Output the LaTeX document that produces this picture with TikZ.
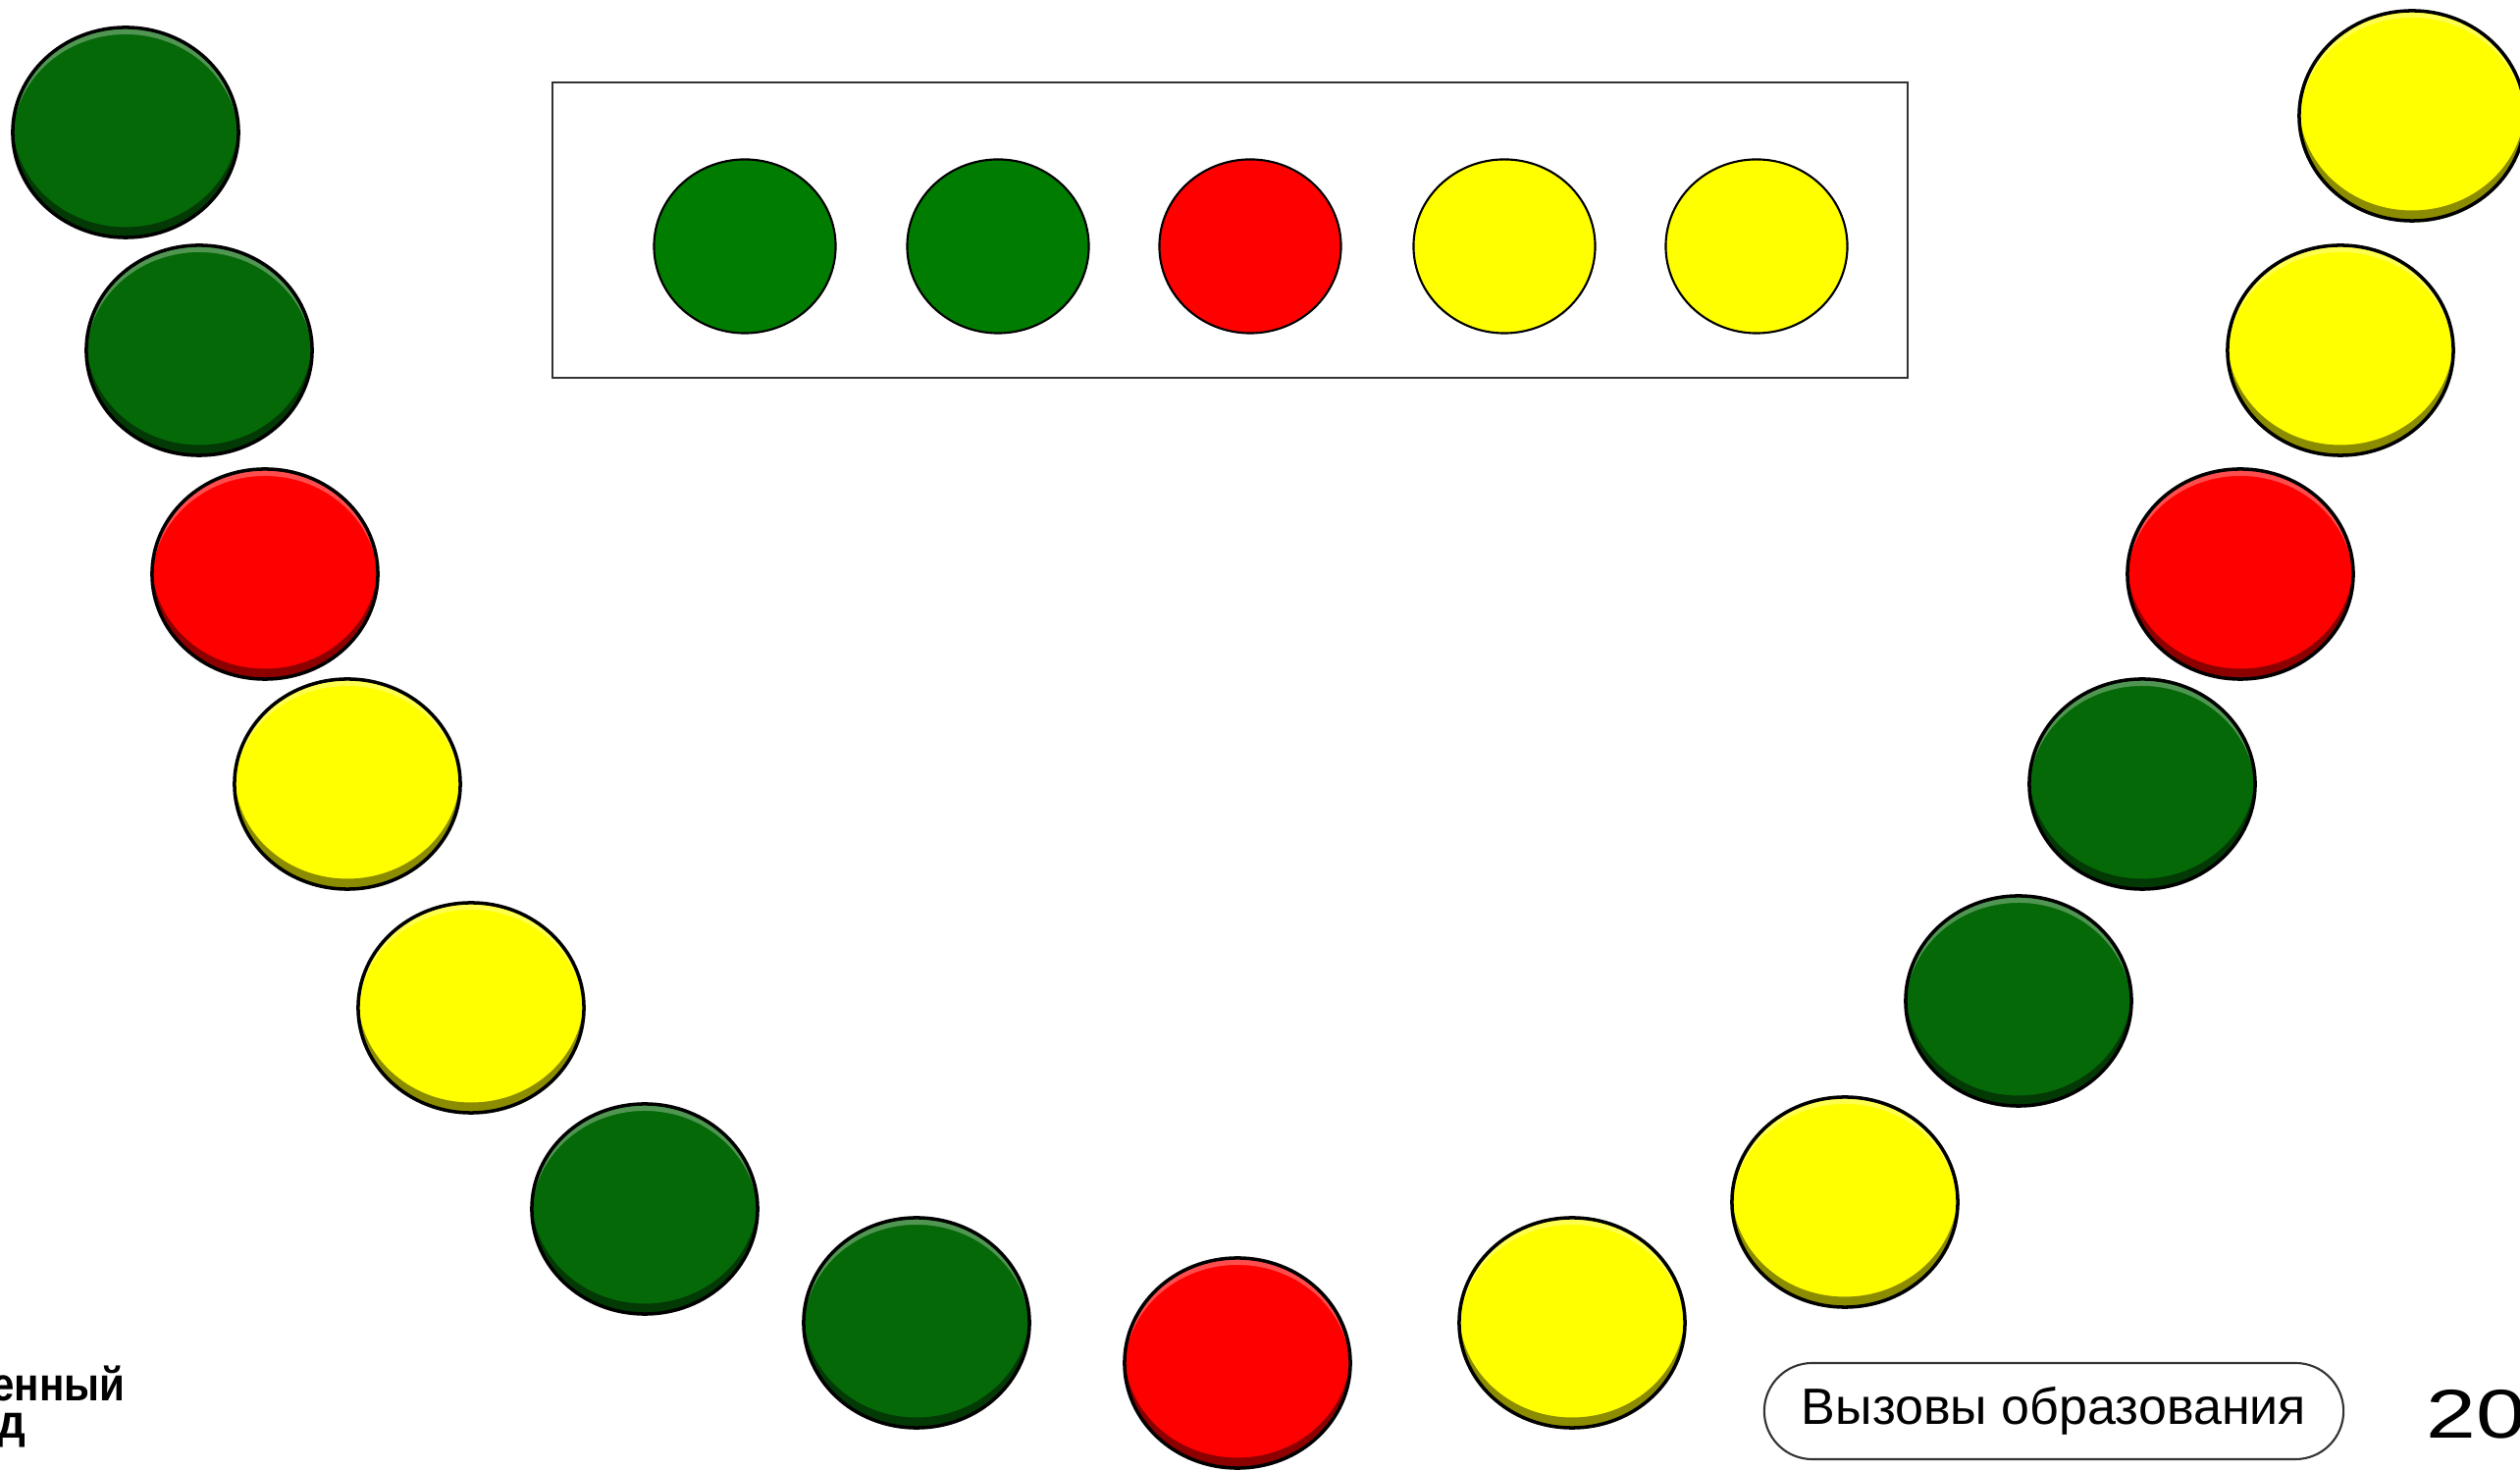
\documentclass[tikz,border=0pt]{standalone}
\usepackage{fontspec}
\setmainfont{Liberation Sans}
\usetikzlibrary{shapes.geometric}

\definecolor{beadgreen}{RGB}{5,105,8}
\definecolor{beadred}{RGB}{255,0,0}
\definecolor{beadyellow}{RGB}{255,255,0}
\definecolor{flatgreen}{RGB}{0,124,0}

\tikzset{
    bead/.style={ellipse, draw=black, line width=1pt, inner sep=0pt,
        minimum width=2.3cm, minimum height=2.14cm,
        path picture={
            \fill[black, opacity=.45, even odd rule]
                (path picture bounding box.south west) rectangle (path picture bounding box.north east)
                ([yshift=3pt]path picture bounding box.center) ellipse [x radius=1.15cm, y radius=1.07cm];
            \fill[white, opacity=.3, even odd rule]
                (path picture bounding box.south west) rectangle (path picture bounding box.north east)
                ([yshift=-2pt]path picture bounding box.center) ellipse [x radius=1.15cm, y radius=1.07cm];
        }},
    sample/.style={ellipse, draw=black, line width=.6pt, inner sep=0pt,
        minimum width=1.85cm, minimum height=1.77cm},
    pill/.style={draw=black!80, line width=.6pt, rounded corners=.49cm,
        minimum width=5.9cm, minimum height=.98cm, inner sep=0pt,
        font=\fontsize{14.8pt}{18pt}\selectfont},
    logo/.style={anchor=base east, inner sep=0pt,
        font=\bfseries\fontsize{13.6pt}{16pt}\selectfont},
}

\begin{document}
\begin{tikzpicture}[x=0.01cm, y=-0.01cm]
    \useasboundingbox (0,0) rectangle (2568,1498);

    % sample row
    \draw[black!80, line width=.6pt] (563,84) rectangle (1944,385);
    \node[sample, fill=flatgreen] (s1) at (759,251) {};
    \node[sample, fill=flatgreen] (s2) at (1017,251) {};
    \node[sample, fill=beadred] (s3) at (1274,251) {};
    \node[sample, fill=beadyellow] (s4) at (1533,251) {};
    \node[sample, fill=beadyellow] (s5) at (1790,251) {};

    % beads along the arc
    \node[bead, fill=beadgreen] (b1) at (128,135) {};
    \node[bead, fill=beadgreen] (b2) at (203,357) {};
    \node[bead, fill=beadred] (b3) at (270,585) {};
    \node[bead, fill=beadyellow] (b4) at (354,799) {};
    \node[bead, fill=beadyellow] (b5) at (480,1027) {};
    \node[bead, fill=beadgreen] (b6) at (657,1232) {};
    \node[bead, fill=beadgreen] (b7) at (934,1348) {};
    \node[bead, fill=beadred] (b8) at (1261,1389) {};
    \node[bead, fill=beadyellow] (b9) at (1602,1348) {};
    \node[bead, fill=beadyellow] (b10) at (1880,1225) {};
    \node[bead, fill=beadgreen] (b11) at (2057,1020) {};
    \node[bead, fill=beadgreen] (b12) at (2183,799) {};
    \node[bead, fill=beadred] (b13) at (2283,585) {};
    \node[bead, fill=beadyellow] (b14) at (2385,357) {};
    \node[bead, fill=beadyellow] (b15) at (2458,118) {};

    % footer
    \node[logo] (logo1) at (128,1428) {\scalebox{.88}[1]{енный}};
    \node[logo] (logo2) at (27,1466) {\scalebox{.95}[1]{д}};
    \node[pill] (tag) at (2093,1438) {Вызовы образования};
    \node[anchor=base west, inner sep=0pt, font=\fontsize{20pt}{24pt}\selectfont] (page) at (2472,1466) {\scalebox{1.3}[1]{20}};
\end{tikzpicture}
\end{document}
